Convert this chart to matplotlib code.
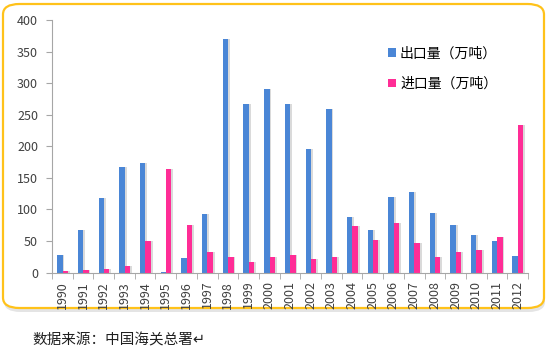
"""China export / import volume by year, 1990-2012."""

import matplotlib.pyplot as plt
import numpy as np
from matplotlib.patches import FancyBboxPatch

plt.rcParams["font.family"] = ["Noto Sans CJK SC", "DejaVu Sans"]

years = [str(y) for y in range(1990, 2013)]
exports = [28, 67, 118, 167, 174, 1, 23, 92, 370, 267, 291, 267, 196, 259,
           88, 67, 120, 127, 94, 75, 60, 50, 26]
imports = [3, 4, 6, 10, 50, 164, 76, 33, 24, 17, 24, 27, 22, 25,
           74, 52, 79, 47, 24, 33, 36, 56, 233]
export_label = "出口量（万吨）"
import_label = "进口量（万吨）"
source_note = "数据来源：中国海关总署↵"

BLUE = "#4A86D6"
PINK = "#FF2D96"
AXIS = "#A6A6A6"

W, H = 550, 349
fig = plt.figure(figsize=(W / 100, H / 100), dpi=100)

# rounded golden frame with soft shadow, kept behind the axes
shadow = FancyBboxPatch((4 / W, 1 - 312 / H), 541 / W, 305 / H,
                        boxstyle="round,pad=0,rounding_size=0.03",
                        transform=fig.transFigure, facecolor="#E4E4E4",
                        edgecolor="none", zorder=-2)
frame = FancyBboxPatch((3 / W, 1 - 308 / H), 541 / W, 304 / H,
                       boxstyle="round,pad=0,rounding_size=0.03",
                       transform=fig.transFigure, facecolor="white",
                       edgecolor="#FFC21A", linewidth=1.6, zorder=-1)
fig.patches.extend([shadow, frame])

ax = fig.add_axes([52 / W, 1 - 272.5 / H, 476 / W, 252.5 / H])
ax.set_facecolor("none")

x = np.arange(len(years))
width = 0.26
off_e = -0.12
off_i = 0.14
shadow_dx = 0.09
ax.bar(x + off_e + shadow_dx, exports, width, color="#DADADA", zorder=1)
ax.bar(x + off_i + shadow_dx, imports, width, color="#DADADA", zorder=1)
ax.bar(x + off_e, exports, width, color=BLUE, label=export_label, zorder=2)
ax.bar(x + off_i, imports, width, color=PINK, label=import_label, zorder=2)

ax.set_xlim(-0.5, len(years) - 0.5)
ax.set_ylim(0, 400)
ax.set_yticks(range(0, 401, 50))
ax.tick_params(axis="y", length=4, color=AXIS, labelsize=9,
               labelcolor="#404040", pad=6)
ax.set_xticks(x)
ax.set_xticklabels(years, rotation=90, fontsize=9, color="#404040")
ax.set_xticks(np.arange(-0.5, len(years)), minor=True)
ax.tick_params(axis="x", which="major", length=0, pad=6)
ax.tick_params(axis="x", which="minor", length=4, color=AXIS)

for side in ("top", "right"):
    ax.spines[side].set_visible(False)
for side in ("left", "bottom"):
    ax.spines[side].set_color(AXIS)

ax.legend(loc="upper left", bbox_to_anchor=(0.68, 0.945), frameon=False,
          fontsize=10, handlelength=0.55, handleheight=0.55,
          handletextpad=0.3, labelspacing=1.2)

fig.text(32 / W, 1 - 340 / H, source_note, fontsize=10.5, va="center",
         color="#202020")

fig.savefig("out.png", dpi=100)
